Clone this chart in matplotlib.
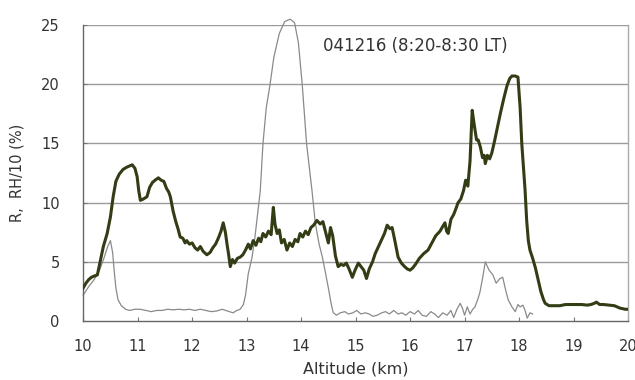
import matplotlib
matplotlib.use("Agg")
import matplotlib.pyplot as plt

plt.rcParams['font.family'] = ['DejaVu Sans']

# Backscatter ratio R versus altitude (km)
r_alt = [10.00, 10.05, 10.10, 10.15, 10.20, 10.26, 10.31, 10.37, 10.44, 10.50, 10.55, 10.60, 10.66,
         10.73, 10.80, 10.85, 10.90, 10.95, 10.99, 11.02, 11.05, 11.10, 11.17, 11.22, 11.27, 11.32,
         11.38, 11.43, 11.48, 11.53, 11.57, 11.60, 11.65, 11.70, 11.74, 11.78, 11.83, 11.87, 11.90,
         11.95, 12.00, 12.05, 12.10, 12.15, 12.20, 12.27, 12.33, 12.38, 12.43, 12.48, 12.53, 12.57,
         12.61, 12.64, 12.67, 12.70, 12.74, 12.78, 12.83, 12.88, 12.93, 12.98, 13.03, 13.07, 13.12,
         13.17, 13.22, 13.26, 13.30, 13.35, 13.40, 13.45, 13.49, 13.52, 13.56, 13.60, 13.64, 13.69,
         13.74, 13.79, 13.84, 13.89, 13.94, 13.98, 14.03, 14.08, 14.13, 14.18, 14.23, 14.29, 14.35,
         14.40, 14.45, 14.50, 14.54, 14.58, 14.63, 14.68, 14.73, 14.78, 14.83, 14.88, 14.94, 14.99,
         15.05, 15.10, 15.15, 15.20, 15.25, 15.31, 15.36, 15.42, 15.48, 15.53, 15.58, 15.63, 15.67,
         15.72, 15.78, 15.84, 15.90, 15.95, 16.00, 16.05, 16.10, 16.17, 16.25, 16.33, 16.40, 16.47,
         16.55, 16.60, 16.64, 16.67, 16.70, 16.75, 16.80, 16.85, 16.88, 16.93, 16.98, 17.02, 17.06,
         17.10, 17.14, 17.18, 17.22, 17.25, 17.29, 17.33, 17.36, 17.38, 17.42, 17.46, 17.50, 17.55,
         17.60, 17.66, 17.72, 17.78, 17.83, 17.87, 17.93, 17.98, 18.02, 18.05, 18.08, 18.11, 18.14,
         18.17, 18.20, 18.25, 18.30, 18.35, 18.40, 18.45, 18.48, 18.55, 18.65, 18.75, 18.85, 18.95,
         19.05, 19.15, 19.25, 19.32, 19.38, 19.42, 19.48, 19.55, 19.65, 19.75, 19.85, 19.95, 20.00]
r_val = [2.8, 3.2, 3.5, 3.7, 3.8, 3.9, 5.0, 6.3, 7.4, 8.8, 10.5, 11.8, 12.4,
         12.8, 13.0, 13.1, 13.2, 12.9, 12.2, 11.0, 10.2, 10.3, 10.5, 11.3, 11.7, 11.9,
         12.1, 11.9, 11.8, 11.2, 10.9, 10.5, 9.3, 8.4, 7.8, 7.1, 7.0, 6.6, 6.8,
         6.5, 6.6, 6.2, 6.0, 6.3, 5.9, 5.6, 5.8, 6.2, 6.5, 7.0, 7.6, 8.3,
         7.5, 6.5, 5.6, 4.6, 5.2, 4.9, 5.3, 5.4, 5.6, 6.0, 6.5, 6.1, 6.8,
         6.4, 7.0, 6.7, 7.4, 7.1, 7.6, 7.3, 9.6, 8.2, 7.4, 7.7, 6.6, 6.9,
         6.0, 6.6, 6.3, 6.9, 6.7, 7.4, 7.1, 7.6, 7.3, 7.9, 8.1, 8.5, 8.2,
         8.4, 7.5, 6.6, 7.9, 7.2, 5.5, 4.6, 4.8, 4.7, 4.9, 4.4, 3.7, 4.3,
         4.9, 4.6, 4.3, 3.6, 4.4, 5.0, 5.7, 6.3, 6.9, 7.4, 8.1, 7.8, 7.9,
         6.8, 5.4, 4.9, 4.6, 4.4, 4.3, 4.5, 4.8, 5.3, 5.7, 6.0, 6.6, 7.2,
         7.6, 8.0, 8.3, 7.6, 7.4, 8.6, 9.0, 9.6, 10.0, 10.3, 11.0, 11.9, 11.4,
         13.5, 17.8, 16.5, 15.3, 15.3, 14.7, 13.8, 14.0, 13.3, 14.0, 13.7, 14.2, 15.2,
         16.3, 17.6, 18.8, 19.9, 20.5, 20.7, 20.7, 20.6, 18.0, 15.0, 13.0, 11.1, 8.5,
         6.8, 6.0, 5.3, 4.5, 3.5, 2.5, 1.8, 1.5, 1.3, 1.3, 1.3, 1.4, 1.4,
         1.4, 1.4, 1.35, 1.4, 1.5, 1.6, 1.4, 1.4, 1.35, 1.3, 1.1, 1.0, 1.0]

# Relative humidity / 10 versus altitude (km)
rh_alt = [10.00, 10.10, 10.20, 10.30, 10.38, 10.45, 10.50, 10.54, 10.57, 10.60, 10.64, 10.70, 10.78,
          10.85, 10.95, 11.05, 11.15, 11.25, 11.35, 11.45, 11.55, 11.65, 11.75, 11.85, 11.95, 12.05,
          12.15, 12.25, 12.35, 12.45, 12.55, 12.65, 12.75, 12.82, 12.88, 12.94, 12.98, 13.03, 13.10,
          13.15, 13.20, 13.25, 13.30, 13.36, 13.43, 13.50, 13.60, 13.70, 13.80, 13.88, 13.95, 14.02,
          14.10, 14.20, 14.26, 14.33, 14.39, 14.45, 14.50, 14.55, 14.59, 14.65, 14.72, 14.80, 14.87,
          14.95, 15.02, 15.10, 15.18, 15.25, 15.32, 15.40, 15.48, 15.55, 15.62, 15.70, 15.78, 15.85,
          15.92, 16.00, 16.08, 16.15, 16.22, 16.30, 16.38, 16.45, 16.52, 16.60, 16.68, 16.75, 16.80,
          16.86, 16.92, 16.96, 17.00, 17.05, 17.10, 17.15, 17.19, 17.24, 17.28, 17.33, 17.38, 17.45,
          17.52, 17.58, 17.65, 17.70, 17.75, 17.80, 17.87, 17.93, 17.98, 18.02, 18.07, 18.11, 18.15,
          18.20, 18.25]
rh_val = [2.2, 2.9, 3.5, 4.3, 5.3, 6.3, 6.8, 5.8, 4.2, 2.8, 1.8, 1.3, 1.0,
          0.9, 1.0, 1.0, 0.9, 0.8, 0.9, 0.9, 1.0, 0.95, 1.0, 0.95, 1.0, 0.9,
          1.0, 0.9, 0.8, 0.85, 1.0, 0.85, 0.7, 0.9, 1.0, 1.4, 2.2, 4.0, 5.4,
          7.0, 9.0, 11.0, 15.0, 18.0, 20.0, 22.3, 24.3, 25.3, 25.5, 25.2, 23.5, 20.0,
          15.0, 11.0, 8.3, 6.5, 5.4, 4.0, 2.8, 1.5, 0.7, 0.5, 0.7, 0.8, 0.6,
          0.7, 0.9, 0.6, 0.7, 0.6, 0.4, 0.5, 0.7, 0.8, 0.6, 0.9, 0.6, 0.7,
          0.5, 0.8, 0.6, 0.9, 0.5, 0.4, 0.8, 0.6, 0.3, 0.7, 0.5, 0.9, 0.3,
          1.0, 1.5, 1.1, 0.5, 1.2, 0.6, 1.0, 1.2, 1.8, 2.4, 3.6, 5.0, 4.3,
          3.9, 3.2, 3.6, 3.7, 2.7, 1.8, 1.2, 0.8, 1.4, 1.2, 1.35, 0.9, 0.25,
          0.7, 0.6]

x_ticks = [10, 11, 12, 13, 14, 15, 16, 17, 18, 19, 20]
y_ticks = [0, 5, 10, 15, 20, 25]
title_text = "041216 (8:20-8:30 LT)"

fig = plt.figure(figsize=(6.35, 3.8), dpi=100)
ax = fig.add_axes([0.131, 0.155, 0.858, 0.779])

for yv in y_ticks[1:]:
    ax.axhline(yv, color='#9a9a9a', lw=1.0, zorder=1)

ax.plot(rh_alt, rh_val, color='#8a8a8a', lw=0.9, zorder=2, clip_on=False)
ax.plot(r_alt, r_val, color='#333d15', lw=2.2, zorder=3, solid_joinstyle='round')

ax.set_xlim(10, 20)
ax.set_ylim(0, 25)
ax.set_xticks(x_ticks)
ax.set_yticks(y_ticks)
ax.tick_params(axis='both', direction='in', length=3, color='#777777',
               labelsize=10.5, labelcolor='#333333')
ax.tick_params(axis='x', pad=13)
ax.tick_params(axis='y', pad=17)

ax.spines['top'].set_visible(False)
ax.spines['left'].set_color('#666666')
ax.spines['bottom'].set_color('#666666')
ax.spines['right'].set_color('#aaaaaa')
for s in ax.spines.values():
    s.set_linewidth(1.0)

ax.set_xlabel('Altitude (km)', fontsize=11.5, color='#333333', labelpad=5)
ax.set_ylabel('R,  RH/10 (%)', fontsize=10.5, color='#333333', labelpad=12)
ax.text(0.44, 0.929, title_text, transform=ax.transAxes, fontsize=12,
        color='#333333', va='center', ha='left')

fig.savefig('out.png', dpi=100, facecolor='white')
